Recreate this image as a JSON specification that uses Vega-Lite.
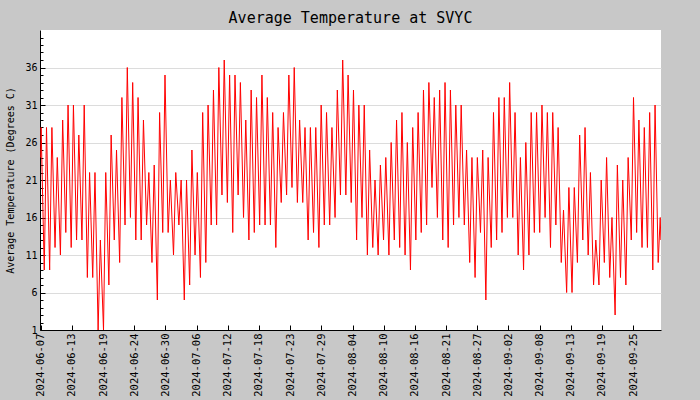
{
  "$schema": "https://vega.github.io/schema/vega-lite/v6.json",
  "width": 621,
  "height": 300,
  "autosize": {"type": "none"},
  "padding": {"left": 40, "top": 30, "right": 39, "bottom": 70},
  "background": "#c8c8c8",
  "title": {
    "text": "Average Temperature at SVYC",
    "font": "DejaVu Sans Mono",
    "fontSize": 15,
    "fontWeight": "normal",
    "color": "#000000",
    "anchor": "middle",
    "frame": "group",
    "baseline": "alphabetic",
    "offset": -8
  },
  "config": {
    "view": {"fill": "#ffffff", "stroke": null},
    "axis": {
      "domainColor": "#000000",
      "tickColor": "#000000",
      "labelColor": "#000000",
      "titleColor": "#000000",
      "labelFont": "DejaVu Sans Mono",
      "titleFont": "DejaVu Sans Mono",
      "titleFontWeight": "normal",
      "labelFlush": false,
      "labelOverlap": false
    }
  },
  "data": {
    "values": [
      {"t": "2024-06-07T13:00", "v": 24},
      {"t": "2024-06-07T15:00", "v": 28}, {"t": "2024-06-08T05:00", "v": 9},
      {"t": "2024-06-08T15:00", "v": 28}, {"t": "2024-06-09T05:00", "v": 9},
      {"t": "2024-06-09T15:00", "v": 28}, {"t": "2024-06-10T05:00", "v": 12},
      {"t": "2024-06-10T15:00", "v": 24}, {"t": "2024-06-11T05:00", "v": 11},
      {"t": "2024-06-11T15:00", "v": 29}, {"t": "2024-06-12T05:00", "v": 14},
      {"t": "2024-06-12T15:00", "v": 31}, {"t": "2024-06-13T05:00", "v": 12},
      {"t": "2024-06-13T15:00", "v": 31}, {"t": "2024-06-14T05:00", "v": 13},
      {"t": "2024-06-14T15:00", "v": 27}, {"t": "2024-06-15T05:00", "v": 13},
      {"t": "2024-06-15T15:00", "v": 31}, {"t": "2024-06-16T05:00", "v": 8},
      {"t": "2024-06-16T15:00", "v": 22}, {"t": "2024-06-17T05:00", "v": 8},
      {"t": "2024-06-17T15:00", "v": 22}, {"t": "2024-06-18T05:00", "v": 1},
      {"t": "2024-06-18T15:00", "v": 13}, {"t": "2024-06-19T05:00", "v": 1},
      {"t": "2024-06-19T15:00", "v": 22}, {"t": "2024-06-20T05:00", "v": 7},
      {"t": "2024-06-20T15:00", "v": 27}, {"t": "2024-06-21T05:00", "v": 13},
      {"t": "2024-06-21T15:00", "v": 25}, {"t": "2024-06-22T05:00", "v": 10},
      {"t": "2024-06-22T15:00", "v": 32}, {"t": "2024-06-23T05:00", "v": 15},
      {"t": "2024-06-23T15:00", "v": 36}, {"t": "2024-06-24T05:00", "v": 16},
      {"t": "2024-06-24T15:00", "v": 34}, {"t": "2024-06-25T05:00", "v": 13},
      {"t": "2024-06-25T15:00", "v": 32}, {"t": "2024-06-26T05:00", "v": 13},
      {"t": "2024-06-26T15:00", "v": 29}, {"t": "2024-06-27T05:00", "v": 15},
      {"t": "2024-06-27T15:00", "v": 22}, {"t": "2024-06-28T05:00", "v": 10},
      {"t": "2024-06-28T15:00", "v": 23}, {"t": "2024-06-29T05:00", "v": 5},
      {"t": "2024-06-29T15:00", "v": 30}, {"t": "2024-06-30T05:00", "v": 14},
      {"t": "2024-06-30T15:00", "v": 35}, {"t": "2024-07-01T05:00", "v": 14},
      {"t": "2024-07-01T15:00", "v": 21}, {"t": "2024-07-02T05:00", "v": 11},
      {"t": "2024-07-02T15:00", "v": 22}, {"t": "2024-07-03T05:00", "v": 15},
      {"t": "2024-07-03T15:00", "v": 21}, {"t": "2024-07-04T05:00", "v": 5},
      {"t": "2024-07-04T15:00", "v": 21}, {"t": "2024-07-05T05:00", "v": 7},
      {"t": "2024-07-05T15:00", "v": 25}, {"t": "2024-07-06T05:00", "v": 11},
      {"t": "2024-07-06T15:00", "v": 22}, {"t": "2024-07-07T05:00", "v": 8},
      {"t": "2024-07-07T15:00", "v": 30}, {"t": "2024-07-08T05:00", "v": 10},
      {"t": "2024-07-08T15:00", "v": 31}, {"t": "2024-07-09T05:00", "v": 15},
      {"t": "2024-07-09T15:00", "v": 33}, {"t": "2024-07-10T05:00", "v": 15},
      {"t": "2024-07-10T15:00", "v": 36}, {"t": "2024-07-11T05:00", "v": 19},
      {"t": "2024-07-11T15:00", "v": 37}, {"t": "2024-07-12T05:00", "v": 18},
      {"t": "2024-07-12T15:00", "v": 35}, {"t": "2024-07-13T05:00", "v": 14},
      {"t": "2024-07-13T15:00", "v": 35}, {"t": "2024-07-14T05:00", "v": 19},
      {"t": "2024-07-14T15:00", "v": 34}, {"t": "2024-07-15T05:00", "v": 16},
      {"t": "2024-07-15T15:00", "v": 29}, {"t": "2024-07-16T05:00", "v": 13},
      {"t": "2024-07-16T15:00", "v": 33}, {"t": "2024-07-17T05:00", "v": 14},
      {"t": "2024-07-17T15:00", "v": 32}, {"t": "2024-07-18T05:00", "v": 15},
      {"t": "2024-07-18T15:00", "v": 35}, {"t": "2024-07-19T05:00", "v": 15},
      {"t": "2024-07-19T15:00", "v": 32}, {"t": "2024-07-20T05:00", "v": 15},
      {"t": "2024-07-20T15:00", "v": 30}, {"t": "2024-07-21T05:00", "v": 12},
      {"t": "2024-07-21T15:00", "v": 28}, {"t": "2024-07-22T05:00", "v": 18},
      {"t": "2024-07-22T15:00", "v": 30}, {"t": "2024-07-23T05:00", "v": 19},
      {"t": "2024-07-23T15:00", "v": 35}, {"t": "2024-07-24T05:00", "v": 20},
      {"t": "2024-07-24T15:00", "v": 36}, {"t": "2024-07-25T05:00", "v": 18},
      {"t": "2024-07-25T15:00", "v": 29}, {"t": "2024-07-26T05:00", "v": 18},
      {"t": "2024-07-26T15:00", "v": 28}, {"t": "2024-07-27T05:00", "v": 13},
      {"t": "2024-07-27T15:00", "v": 28}, {"t": "2024-07-28T05:00", "v": 14},
      {"t": "2024-07-28T15:00", "v": 28}, {"t": "2024-07-29T05:00", "v": 12},
      {"t": "2024-07-29T15:00", "v": 31}, {"t": "2024-07-30T05:00", "v": 15},
      {"t": "2024-07-30T15:00", "v": 30}, {"t": "2024-07-31T05:00", "v": 15},
      {"t": "2024-07-31T15:00", "v": 28}, {"t": "2024-08-01T05:00", "v": 16},
      {"t": "2024-08-01T15:00", "v": 33}, {"t": "2024-08-02T05:00", "v": 19},
      {"t": "2024-08-02T15:00", "v": 37}, {"t": "2024-08-03T05:00", "v": 19},
      {"t": "2024-08-03T15:00", "v": 35}, {"t": "2024-08-04T05:00", "v": 18},
      {"t": "2024-08-04T15:00", "v": 33}, {"t": "2024-08-05T05:00", "v": 13},
      {"t": "2024-08-05T15:00", "v": 31}, {"t": "2024-08-06T05:00", "v": 16},
      {"t": "2024-08-06T15:00", "v": 31}, {"t": "2024-08-07T05:00", "v": 11},
      {"t": "2024-08-07T15:00", "v": 25}, {"t": "2024-08-08T05:00", "v": 12},
      {"t": "2024-08-08T15:00", "v": 21}, {"t": "2024-08-09T05:00", "v": 11},
      {"t": "2024-08-09T15:00", "v": 23}, {"t": "2024-08-10T05:00", "v": 13},
      {"t": "2024-08-10T15:00", "v": 24}, {"t": "2024-08-11T05:00", "v": 11},
      {"t": "2024-08-11T15:00", "v": 26}, {"t": "2024-08-12T05:00", "v": 13},
      {"t": "2024-08-12T15:00", "v": 29}, {"t": "2024-08-13T05:00", "v": 12},
      {"t": "2024-08-13T15:00", "v": 30}, {"t": "2024-08-14T05:00", "v": 11},
      {"t": "2024-08-14T15:00", "v": 26}, {"t": "2024-08-15T05:00", "v": 9},
      {"t": "2024-08-15T15:00", "v": 28}, {"t": "2024-08-16T05:00", "v": 13},
      {"t": "2024-08-16T15:00", "v": 30}, {"t": "2024-08-17T05:00", "v": 14},
      {"t": "2024-08-17T15:00", "v": 33}, {"t": "2024-08-18T05:00", "v": 15},
      {"t": "2024-08-18T15:00", "v": 34}, {"t": "2024-08-19T05:00", "v": 20},
      {"t": "2024-08-19T15:00", "v": 32}, {"t": "2024-08-20T05:00", "v": 16},
      {"t": "2024-08-20T15:00", "v": 33}, {"t": "2024-08-21T05:00", "v": 13},
      {"t": "2024-08-21T15:00", "v": 34}, {"t": "2024-08-22T05:00", "v": 12},
      {"t": "2024-08-22T15:00", "v": 33}, {"t": "2024-08-23T05:00", "v": 15},
      {"t": "2024-08-23T15:00", "v": 31}, {"t": "2024-08-24T05:00", "v": 16},
      {"t": "2024-08-24T15:00", "v": 31}, {"t": "2024-08-25T05:00", "v": 15},
      {"t": "2024-08-25T15:00", "v": 25}, {"t": "2024-08-26T05:00", "v": 10},
      {"t": "2024-08-26T15:00", "v": 24}, {"t": "2024-08-27T05:00", "v": 8},
      {"t": "2024-08-27T15:00", "v": 24}, {"t": "2024-08-28T05:00", "v": 14},
      {"t": "2024-08-28T15:00", "v": 25}, {"t": "2024-08-29T05:00", "v": 5},
      {"t": "2024-08-29T15:00", "v": 24}, {"t": "2024-08-30T05:00", "v": 12},
      {"t": "2024-08-30T15:00", "v": 30}, {"t": "2024-08-31T05:00", "v": 13},
      {"t": "2024-08-31T15:00", "v": 32}, {"t": "2024-09-01T05:00", "v": 14},
      {"t": "2024-09-01T15:00", "v": 32}, {"t": "2024-09-02T05:00", "v": 16},
      {"t": "2024-09-02T15:00", "v": 34}, {"t": "2024-09-03T05:00", "v": 16},
      {"t": "2024-09-03T15:00", "v": 30}, {"t": "2024-09-04T05:00", "v": 11},
      {"t": "2024-09-04T15:00", "v": 24}, {"t": "2024-09-05T05:00", "v": 9},
      {"t": "2024-09-05T15:00", "v": 26}, {"t": "2024-09-06T05:00", "v": 11},
      {"t": "2024-09-06T15:00", "v": 30}, {"t": "2024-09-07T05:00", "v": 14},
      {"t": "2024-09-07T15:00", "v": 30}, {"t": "2024-09-08T05:00", "v": 14},
      {"t": "2024-09-08T15:00", "v": 31}, {"t": "2024-09-09T05:00", "v": 16},
      {"t": "2024-09-09T15:00", "v": 30}, {"t": "2024-09-10T05:00", "v": 12},
      {"t": "2024-09-10T15:00", "v": 30}, {"t": "2024-09-11T05:00", "v": 15},
      {"t": "2024-09-11T15:00", "v": 28}, {"t": "2024-09-12T05:00", "v": 10},
      {"t": "2024-09-12T15:00", "v": 17}, {"t": "2024-09-13T05:00", "v": 6},
      {"t": "2024-09-13T15:00", "v": 20}, {"t": "2024-09-14T05:00", "v": 6},
      {"t": "2024-09-14T15:00", "v": 20}, {"t": "2024-09-15T05:00", "v": 10},
      {"t": "2024-09-15T15:00", "v": 27}, {"t": "2024-09-16T05:00", "v": 13},
      {"t": "2024-09-16T15:00", "v": 28}, {"t": "2024-09-17T05:00", "v": 11},
      {"t": "2024-09-17T15:00", "v": 22}, {"t": "2024-09-18T05:00", "v": 7},
      {"t": "2024-09-18T15:00", "v": 13}, {"t": "2024-09-19T05:00", "v": 7},
      {"t": "2024-09-19T15:00", "v": 21}, {"t": "2024-09-20T05:00", "v": 10},
      {"t": "2024-09-20T15:00", "v": 24}, {"t": "2024-09-21T05:00", "v": 8},
      {"t": "2024-09-21T15:00", "v": 16}, {"t": "2024-09-22T05:00", "v": 3},
      {"t": "2024-09-22T15:00", "v": 23}, {"t": "2024-09-23T05:00", "v": 8},
      {"t": "2024-09-23T15:00", "v": 21}, {"t": "2024-09-24T05:00", "v": 7},
      {"t": "2024-09-24T15:00", "v": 24}, {"t": "2024-09-25T05:00", "v": 13},
      {"t": "2024-09-25T15:00", "v": 32}, {"t": "2024-09-26T05:00", "v": 14},
      {"t": "2024-09-26T15:00", "v": 29}, {"t": "2024-09-27T05:00", "v": 12},
      {"t": "2024-09-27T15:00", "v": 28}, {"t": "2024-09-28T05:00", "v": 12},
      {"t": "2024-09-28T15:00", "v": 30}, {"t": "2024-09-29T05:00", "v": 9},
      {"t": "2024-09-29T15:00", "v": 31}, {"t": "2024-09-30T05:00", "v": 10},
      {"t": "2024-09-30T14:00", "v": 16}, {"t": "2024-09-30T17:00", "v": 13}
    ]
  },
  "mark": {"type": "line", "color": "#ff0000", "strokeWidth": 1, "clip": true},
  "encoding": {
    "x": {
      "field": "t",
      "type": "temporal",
      "scale": {
        "domain": [
          {"year": 2024, "month": 6, "date": 7, "hours": 10},
          {"year": 2024, "month": 9, "date": 30, "hours": 17, "minutes": 30}
        ]
      },
      "axis": {
        "title": null,
        "grid": false,
        "format": "%Y-%m-%d",
        "labelAngle": 270,
        "labelFontSize": 10.5,
        "tickSize": -5,
        "labelPadding": 8,
        "values": [
          {"year": 2024, "month": 6, "date": 7, "hours": 13, "minutes": 12},
          {"year": 2024, "month": 6, "date": 13, "hours": 8, "minutes": 9},
          {"year": 2024, "month": 6, "date": 19, "hours": 3, "minutes": 5},
          {"year": 2024, "month": 6, "date": 24, "hours": 22, "minutes": 2},
          {"year": 2024, "month": 6, "date": 30, "hours": 17, "minutes": 0},
          {"year": 2024, "month": 7, "date": 6, "hours": 11, "minutes": 56},
          {"year": 2024, "month": 7, "date": 12, "hours": 6, "minutes": 53},
          {"year": 2024, "month": 7, "date": 18, "hours": 1, "minutes": 50},
          {"year": 2024, "month": 7, "date": 23, "hours": 20, "minutes": 47},
          {"year": 2024, "month": 7, "date": 29, "hours": 15, "minutes": 43},
          {"year": 2024, "month": 8, "date": 4, "hours": 10, "minutes": 40},
          {"year": 2024, "month": 8, "date": 10, "hours": 5, "minutes": 37},
          {"year": 2024, "month": 8, "date": 16, "hours": 0, "minutes": 34},
          {"year": 2024, "month": 8, "date": 21, "hours": 19, "minutes": 31},
          {"year": 2024, "month": 8, "date": 27, "hours": 14, "minutes": 28},
          {"year": 2024, "month": 9, "date": 2, "hours": 9, "minutes": 25},
          {"year": 2024, "month": 9, "date": 8, "hours": 4, "minutes": 21},
          {"year": 2024, "month": 9, "date": 13, "hours": 23, "minutes": 18},
          {"year": 2024, "month": 9, "date": 19, "hours": 18, "minutes": 15},
          {"year": 2024, "month": 9, "date": 25, "hours": 13, "minutes": 11}
        ]
      }
    },
    "y": {
      "field": "v",
      "type": "quantitative",
      "scale": {"domain": [1, 41], "nice": false, "zero": false},
      "axis": {
        "title": "Average Temperature (Degrees C)",
        "titleFontSize": 10,
        "titlePadding": 9,
        "labelFontSize": 10,
        "labelPadding": 8,
        "values": [1, 2, 3, 4, 5, 6, 7, 8, 9, 10, 11, 12, 13, 14, 15, 16, 17, 18, 19, 20, 21, 22, 23, 24, 25, 26, 27, 28, 29, 30, 31, 32, 33, 34, 35, 36, 37, 38, 39, 40],
        "labelExpr": "(datum.value - 1) % 5 === 0 ? datum.label : ''",
        "tickSize": {"condition": {"test": "(datum.value - 1) % 5 === 0", "value": -5}, "value": -3},
        "grid": true,
        "gridColor": "#dcdcdc",
        "gridOpacity": {"condition": {"test": "(datum.value - 1) % 5 === 0 && datum.value > 1", "value": 1}, "value": 0}
      }
    }
  }
}
